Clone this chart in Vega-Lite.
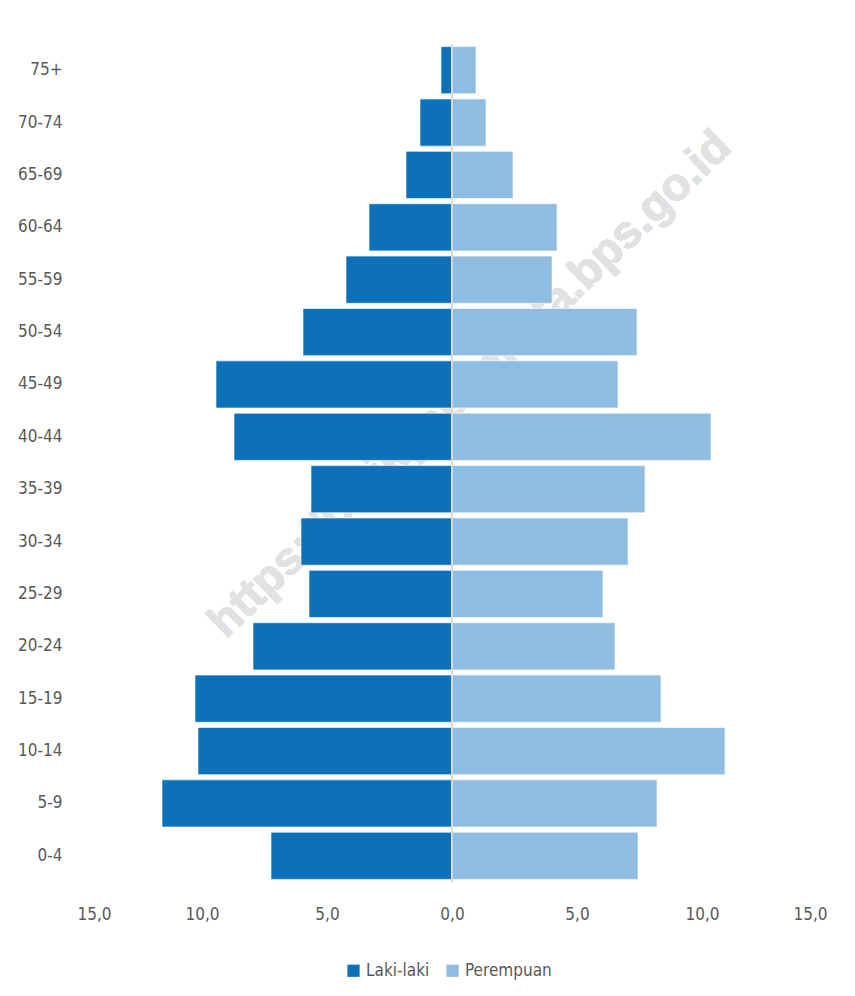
{
  "$schema": "https://vega.github.io/schema/vega-lite/v6.json",
  "width": 750,
  "height": 838,
  "autosize": {"type": "none"},
  "padding": {"left": 77, "top": 44, "right": 28, "bottom": 114},
  "background": "white",
  "config": {
    "view": {"stroke": null},
    "font": "Liberation Sans Narrow, DejaVu Sans Condensed, sans-serif",
    "axis": {"labelColor": "#595959", "labelFontSize": 17, "labelFont": "Liberation Sans Narrow, DejaVu Sans Condensed, sans-serif"}
  },
  "data": {
    "values": [
      {"age": "75+", "sex": "Laki-laki", "value": -0.44},
      {"age": "70-74", "sex": "Laki-laki", "value": -1.28},
      {"age": "65-69", "sex": "Laki-laki", "value": -1.84},
      {"age": "60-64", "sex": "Laki-laki", "value": -3.32},
      {"age": "55-59", "sex": "Laki-laki", "value": -4.24},
      {"age": "50-54", "sex": "Laki-laki", "value": -5.96},
      {"age": "45-49", "sex": "Laki-laki", "value": -9.44},
      {"age": "40-44", "sex": "Laki-laki", "value": -8.72},
      {"age": "35-39", "sex": "Laki-laki", "value": -5.64},
      {"age": "30-34", "sex": "Laki-laki", "value": -6.04},
      {"age": "25-29", "sex": "Laki-laki", "value": -5.72},
      {"age": "20-24", "sex": "Laki-laki", "value": -7.96},
      {"age": "15-19", "sex": "Laki-laki", "value": -10.28},
      {"age": "10-14", "sex": "Laki-laki", "value": -10.16},
      {"age": "5-9", "sex": "Laki-laki", "value": -11.6},
      {"age": "0-4", "sex": "Laki-laki", "value": -7.24},
      {"age": "75+", "sex": "Perempuan", "value": 0.96},
      {"age": "70-74", "sex": "Perempuan", "value": 1.36},
      {"age": "65-69", "sex": "Perempuan", "value": 2.44},
      {"age": "60-64", "sex": "Perempuan", "value": 4.2},
      {"age": "55-59", "sex": "Perempuan", "value": 4.0},
      {"age": "50-54", "sex": "Perempuan", "value": 7.4},
      {"age": "45-49", "sex": "Perempuan", "value": 6.64},
      {"age": "40-44", "sex": "Perempuan", "value": 10.36},
      {"age": "35-39", "sex": "Perempuan", "value": 7.72},
      {"age": "30-34", "sex": "Perempuan", "value": 7.04},
      {"age": "25-29", "sex": "Perempuan", "value": 6.04},
      {"age": "20-24", "sex": "Perempuan", "value": 6.52},
      {"age": "15-19", "sex": "Perempuan", "value": 8.36},
      {"age": "10-14", "sex": "Perempuan", "value": 10.92},
      {"age": "5-9", "sex": "Perempuan", "value": 8.2},
      {"age": "0-4", "sex": "Perempuan", "value": 7.44}
    ]
  },
  "encoding": {
    "y": {
      "field": "age", "type": "nominal",
      "sort": ["75+", "70-74", "65-69", "60-64", "55-59", "50-54", "45-49", "40-44", "35-39", "30-34", "25-29", "20-24", "15-19", "10-14", "5-9", "0-4"],
      "scale": {"paddingInner": 0.1, "paddingOuter": 0.05},
      "axis": {"title": null, "ticks": false, "domain": false, "labelPadding": 15}
    }
  },
  "layer": [
    {
      "mark": {"type": "text", "text": "https://balikpapankota.bps.go.id", "angle": 316, "fontSize": 46, "fontWeight": "bold", "font": "Liberation Sans, Arial, sans-serif", "color": "#e2e2e2", "align": "center", "baseline": "middle"},
      "encoding": {"x": {"datum": 0.72, "type": "quantitative"}, "y": {"datum": "45-49"}}
    },
    {
      "mark": {"type": "bar", "stroke": "white", "strokeWidth": 1, "strokeOpacity": 0.6},
      "encoding": {
        "x": {
          "field": "value", "type": "quantitative",
          "scale": {"domain": [-15, 15], "nice": false},
          "axis": {"title": null, "grid": false, "domain": false, "ticks": false, "values": [-15, -10, -5, 0, 5, 10, 15], "labelPadding": 24, "labelExpr": "replace(format(abs(datum.value), '.1f'), '.', ',')"}
        },
        "color": {
          "field": "sex", "type": "nominal",
          "scale": {"domain": ["Laki-laki", "Perempuan"], "range": ["#0c71b9", "#8fbde2"]},
          "legend": {"title": null, "orient": "none", "direction": "horizontal", "legendX": 268, "legendY": 918, "symbolType": "square", "symbolSize": 150, "symbolStrokeWidth": 0, "labelFontSize": 17, "labelColor": "#595959", "labelFont": "Liberation Sans Narrow, DejaVu Sans Condensed, sans-serif", "columnPadding": 14, "labelOffset": 4}
        }
      }
    },
    {
      "mark": {"type": "rule", "color": "#d9d9d9", "strokeWidth": 2},
      "encoding": {"x": {"datum": 0}, "y": null}
    }
  ]
}
